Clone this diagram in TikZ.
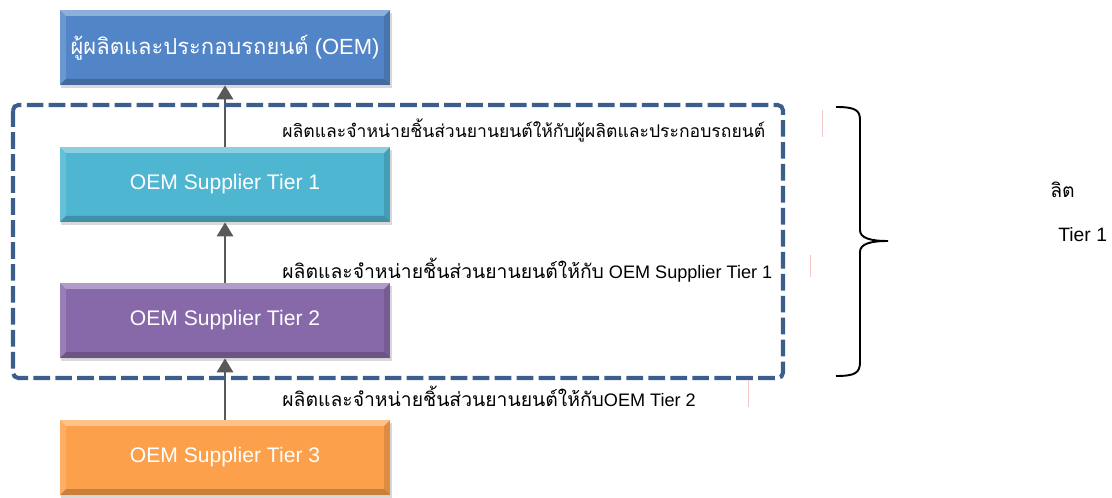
\documentclass[tikz,border=0pt]{standalone}
\usepackage{fontspec}
\setmainfont{Liberation Sans}
\newfontfamily\thaifont[Script=Thai]{Loma}
\usetikzlibrary{arrows.meta, shadows}
\definecolor{oemcol}{RGB}{82,133,200}
\definecolor{tieronecol}{RGB}{78,182,208}
\definecolor{tiertwocol}{RGB}{135,105,170}
\definecolor{tierthreecol}{RGB}{252,160,76}
\definecolor{framecol}{RGB}{59,94,140}
\definecolor{arrowcol}{RGB}{89,89,89}
\definecolor{tickcol}{RGB}{244,200,200}
\tikzset{
  tierbox/.style={
    minimum width=6.6cm, minimum height=1.5cm, text=white,
    font=\fontsize{12}{14}\selectfont,
    drop shadow={shadow xshift=0.03cm, shadow yshift=-0.06cm, opacity=0.3},
    path picture={
      \fill[white, opacity=0.35] (path picture bounding box.north west) -- (path picture bounding box.north east)
        -- ([xshift=-0.12cm, yshift=-0.12cm]path picture bounding box.north east)
        -- ([xshift=0.12cm, yshift=-0.12cm]path picture bounding box.north west) -- cycle;
      \fill[white, opacity=0.15] (path picture bounding box.north west) -- (path picture bounding box.south west)
        -- ([xshift=0.12cm, yshift=0.12cm]path picture bounding box.south west)
        -- ([xshift=0.12cm, yshift=-0.12cm]path picture bounding box.north west) -- cycle;
      \fill[black, opacity=0.2] (path picture bounding box.south west) -- (path picture bounding box.south east)
        -- ([xshift=-0.12cm, yshift=0.12cm]path picture bounding box.south east)
        -- ([xshift=0.12cm, yshift=0.12cm]path picture bounding box.south west) -- cycle;
      \fill[black, opacity=0.12] (path picture bounding box.north east) -- (path picture bounding box.south east)
        -- ([xshift=-0.12cm, yshift=0.12cm]path picture bounding box.south east)
        -- ([xshift=-0.12cm, yshift=-0.12cm]path picture bounding box.north east) -- cycle;
    }
  },
  uparrow/.style={-{Triangle[length=0.28cm, width=0.32cm]}, draw=arrowcol, line width=1.7pt},
  steplabel/.style={anchor=west, inner sep=0pt, font=\fontsize{10}{12}\selectfont}
}
\newcommand{\thaibig}[1]{{\fontsize{11}{13}\selectfont\thaifont #1}}

\begin{document}
\begin{tikzpicture}
  \useasboundingbox (0,0) rectangle (22.24,-9.96);
  % supply chain boxes
  \node[tierbox, fill=oemcol, font=\fontsize{12.5}{14}\selectfont] (oem) at (4.5,-0.95) {{\thaifont ผู้ผลิตและประกอบรถยนต์} (OEM)};
  \node[tierbox, fill=tieronecol] (tierone) at (4.5,-3.69) {OEM Supplier Tier 1};
  \node[tierbox, fill=tiertwocol] (tiertwo) at (4.5,-6.41) {OEM Supplier Tier 2};
  \node[tierbox, fill=tierthreecol] (tierthree) at (4.5,-9.15) {OEM Supplier Tier 3};
  \draw[uparrow] (tierone) -- (oem);
  \draw[uparrow] (tiertwo) -- (tierone);
  \draw[uparrow] (tierthree) -- (tiertwo);
  % dashed frame round tier 1 and 2
  \draw[framecol, line width=2.3pt, dash pattern=on 9.5pt off 3pt, rounded corners=3pt] (0.26,-2.1) rectangle (15.66,-7.56);
  \node[steplabel] (labone) at (5.64,-2.6) {\thaifont ผลิตและจำหน่ายชิ้นส่วนยานยนต์ให้กับผู้ผลิตและประกอบรถยนต์};
  \node[steplabel, font=\fontsize{10.3}{12}\selectfont] (labtwo) at (5.64,-5.4) {\thaibig{ผลิตและจำหน่ายชิ้นส่วนยานยนต์ให้กับ} OEM Supplier Tier 1};
  \node[steplabel, font=\fontsize{10.3}{12}\selectfont] (labthree) at (5.64,-7.92) {\thaibig{ผลิตและจำหน่ายชิ้นส่วนยานยนต์ให้กับ}OEM Tier 2};
  % faint marks
  \draw[tickcol, line width=0.5pt] (16.44,-2.2) -- (16.44,-2.74);
  \draw[tickcol, line width=0.5pt] (16.2,-5.1) -- (16.2,-5.54);
  \draw[tickcol, line width=0.5pt] (14.96,-7.6) -- (14.96,-8.14);
  % brace
  \draw[line width=1.1pt] (16.72,-2.14) .. controls (17.1,-2.14) and (17.2,-2.2) .. (17.2,-2.4)
    -- (17.2,-4.6) .. controls (17.2,-4.76) and (17.4,-4.82) .. (17.76,-4.82)
    .. controls (17.4,-4.82) and (17.2,-4.88) .. (17.2,-5.04)
    -- (17.2,-7.24) .. controls (17.2,-7.46) and (17.1,-7.52) .. (16.72,-7.52);
  \node[steplabel] (cutone) at (21.0,-3.8) {\thaibig{ลิต}};
  \node[steplabel, font=\fontsize{11}{13}\selectfont] (cuttwo) at (21.16,-4.7) {Tier 1};
\end{tikzpicture}
\end{document}
